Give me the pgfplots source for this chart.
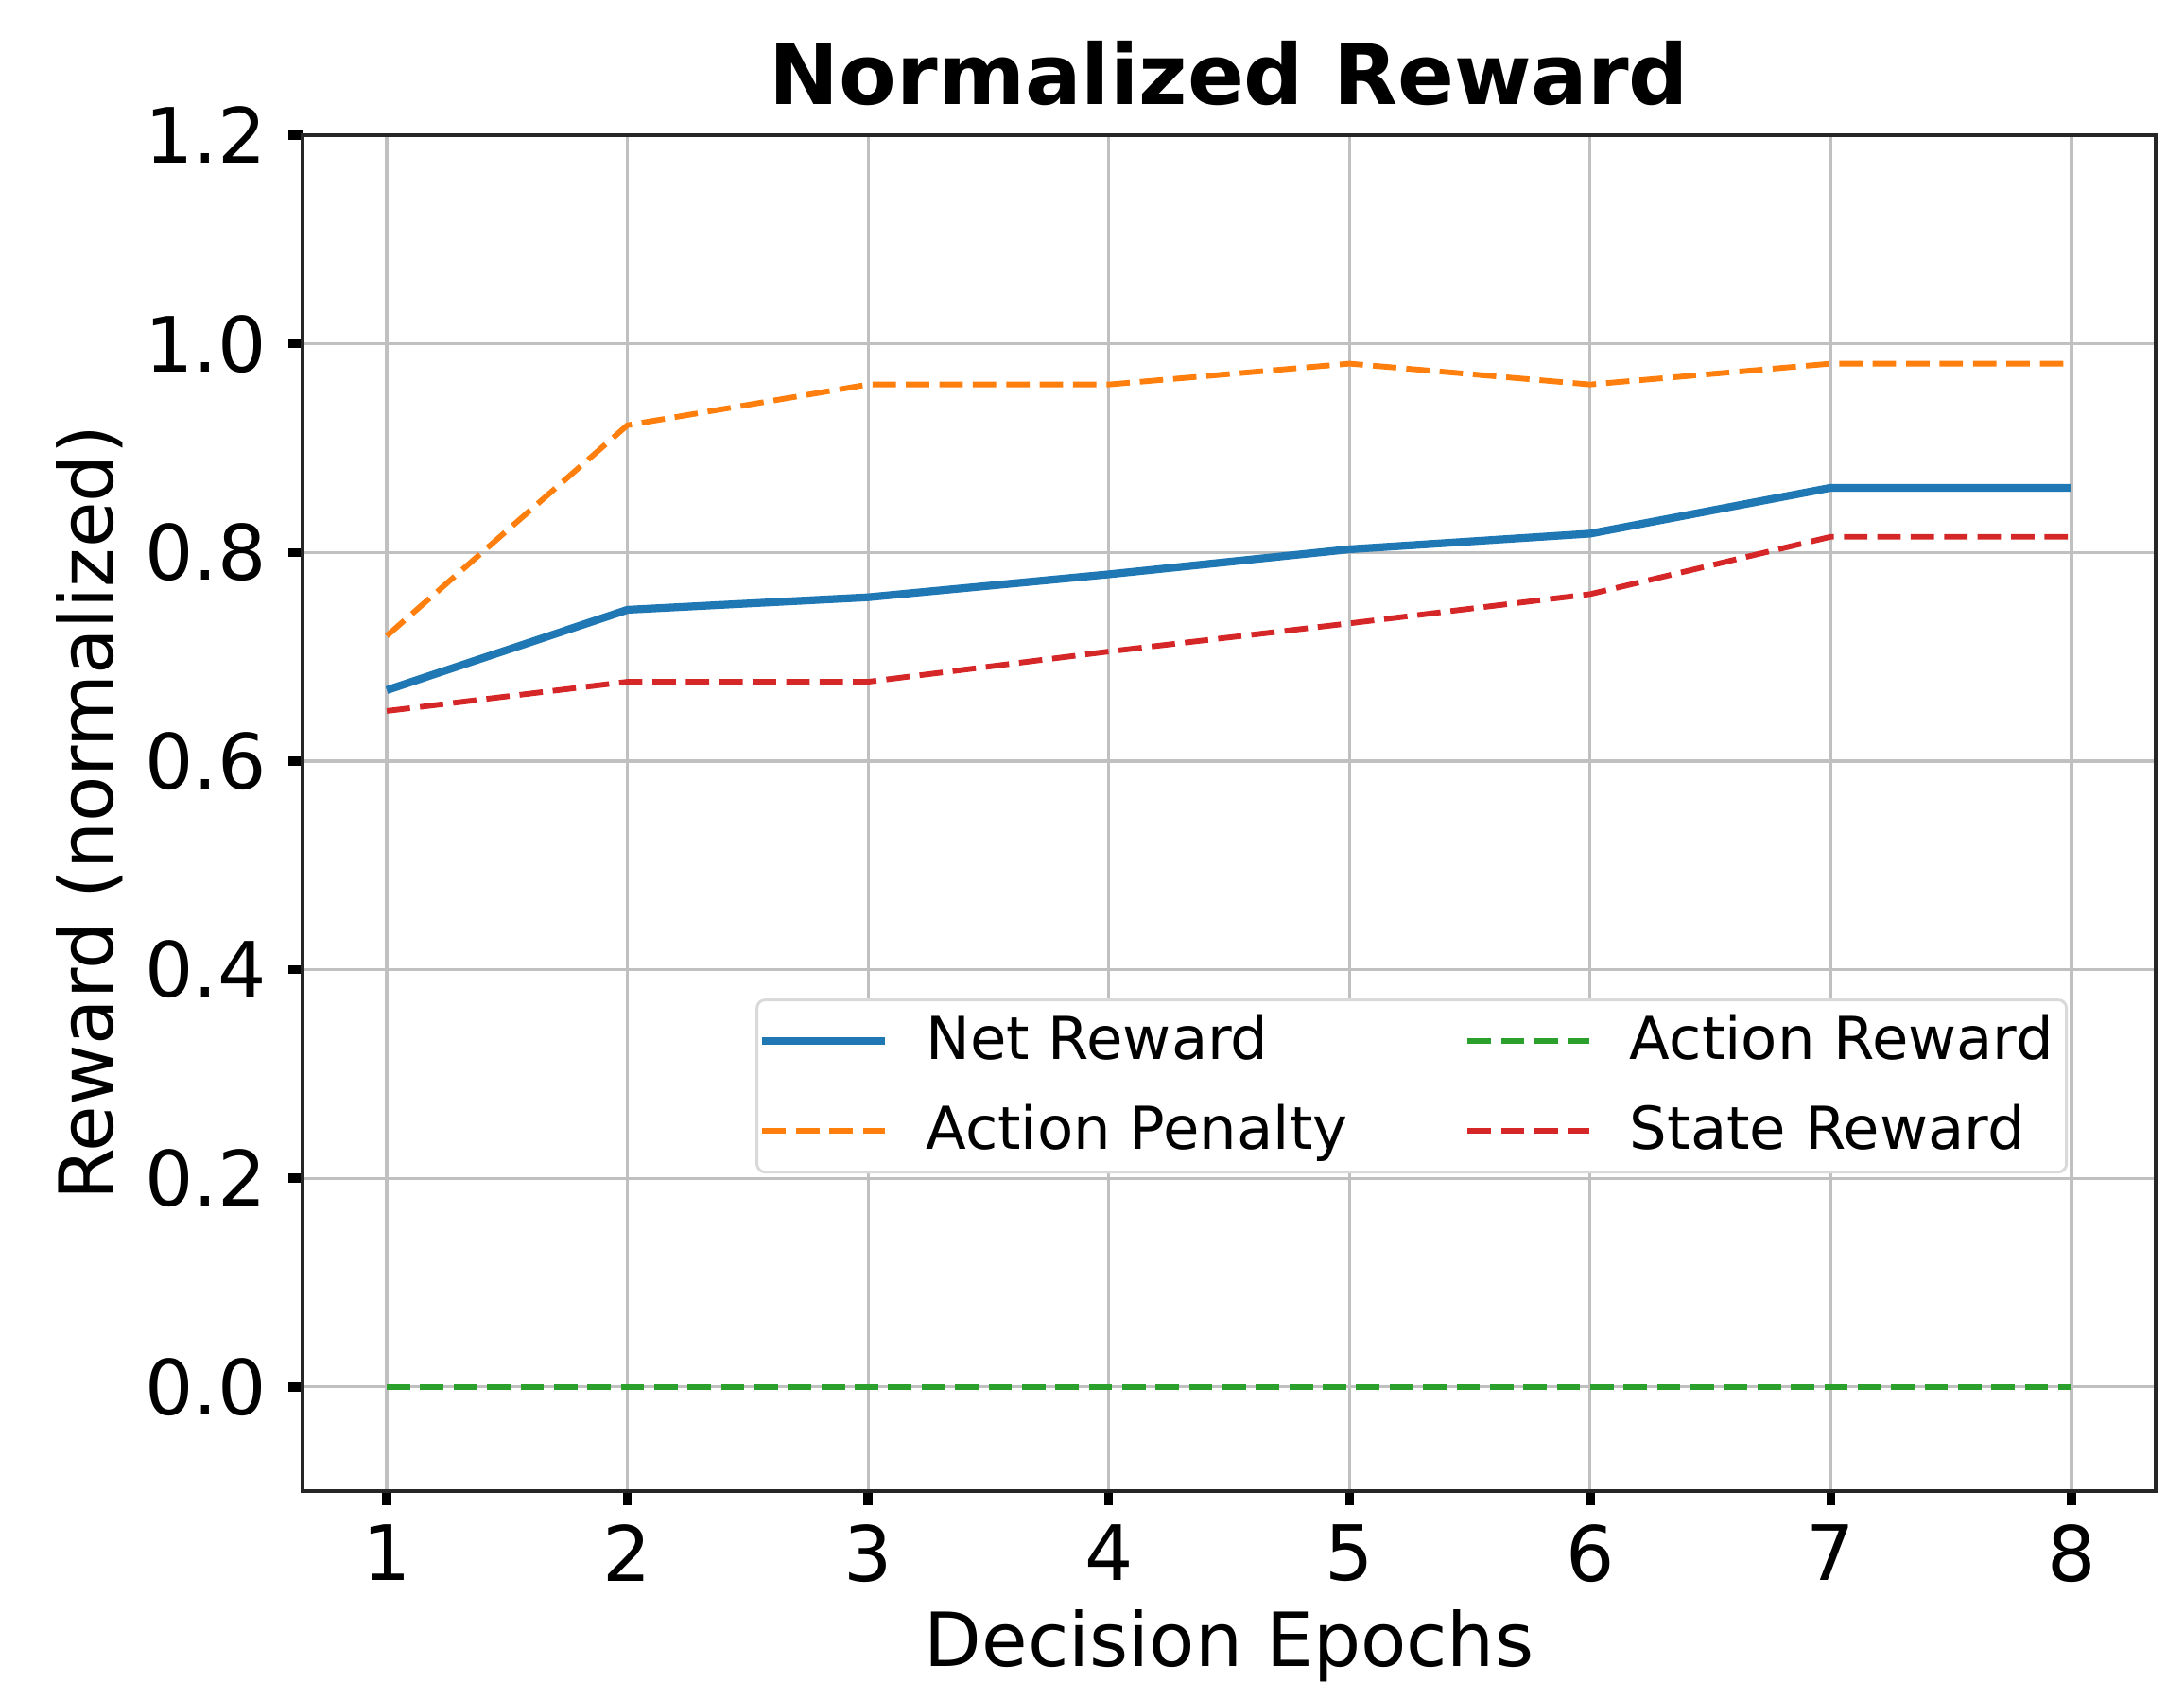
\documentclass[border=0pt]{standalone}
\usepackage{pgfplots}
\pgfplotsset{compat=1.18}
\usepackage{fontspec}
\setmainfont{DejaVu Sans}
\definecolor{tabblue}{HTML}{1F77B4}
\definecolor{taborange}{HTML}{FF7F0E}
\definecolor{tabgreen}{HTML}{2CA02C}
\definecolor{tabred}{HTML}{D62728}
\definecolor{gridgray}{HTML}{C0C0C0}

\begin{document}
\begin{tikzpicture}
\begin{axis}[
    width=332.6pt, height=243.35pt, scale only axis,
    xmin=0.65, xmax=8.35, ymin=-0.1, ymax=1.2,
    xtick={1,2,...,8},
    ytick={0,0.2,0.4,0.6,0.8,1.0,1.2},
    yticklabel style={xshift=-0.5pt, /pgf/number format/.cd, fixed, fixed zerofill, precision=1},
    /pgf/number format/assume math mode=true,
    tick label style={font=\fontsize{13.7}{16}\selectfont},
    xtick pos=bottom, ytick pos=left,
    tick align=outside, major tick length=2.5pt,
    major tick style={black, line width=1.6pt},
    axis line style={black!85, line width=0.7pt},
    grid=major, grid style={gridgray, line width=0.55pt},
    title={\bfseries Normalized Reward},
    title style={font=\fontsize{15}{18}\selectfont, yshift=-4.2pt},
    xlabel={Decision Epochs}, ylabel={Reward (normalized)},
    label style={font=\fontsize{13.4}{16}\selectfont},
    xlabel style={yshift=2pt}, ylabel style={yshift=-3pt},
    legend columns=2,
    legend image code/.code={\draw[#1] (0pt,0pt) -- (21.9pt,0pt);},
    legend style={at={(0.9526,0.3633)}, anchor=north east,
        draw=black!15, rounded corners=1.5pt, line width=0.5pt,
        font=\fontsize{10.6}{12}\selectfont,
        column sep=4.75pt, row sep=2.6pt, inner xsep=0.3pt, inner ysep=0.6pt,
        /tikz/every even column/.append style={column sep=19pt}},
    legend cell align=left,
]
\addplot[tabblue, line width=1.4pt] coordinates {
(1,0.668) (2,0.745) (3,0.757) (4,0.779) (5,0.803) (6,0.818) (7,0.862) (8,0.862)};
\addlegendentry{Net Reward}
\addplot[tabgreen, line width=1pt, dash pattern=on 4.2pt off 1.8pt] coordinates {
(1,0) (2,0) (3,0) (4,0) (5,0) (6,0) (7,0) (8,0)};
\addlegendentry{Action Reward}
\addplot[taborange, line width=1pt, dash pattern=on 4.2pt off 1.8pt] coordinates {
(1,0.720) (2,0.922) (3,0.961) (4,0.961) (5,0.981) (6,0.961) (7,0.981) (8,0.981)};
\addlegendentry{Action Penalty}
\addplot[tabred, line width=1pt, dash pattern=on 4.2pt off 1.8pt] coordinates {
(1,0.648) (2,0.676) (3,0.676) (4,0.705) (5,0.732) (6,0.760) (7,0.815) (8,0.815)};
\addlegendentry{State Reward}
\end{axis}
\pgfresetboundingbox
\path[use as bounding box] ([xshift=-54.3pt,yshift=-37.33pt]current axis.south west)
    rectangle ([xshift=5.09pt,yshift=24.27pt]current axis.north east);
\end{tikzpicture}
\end{document}
